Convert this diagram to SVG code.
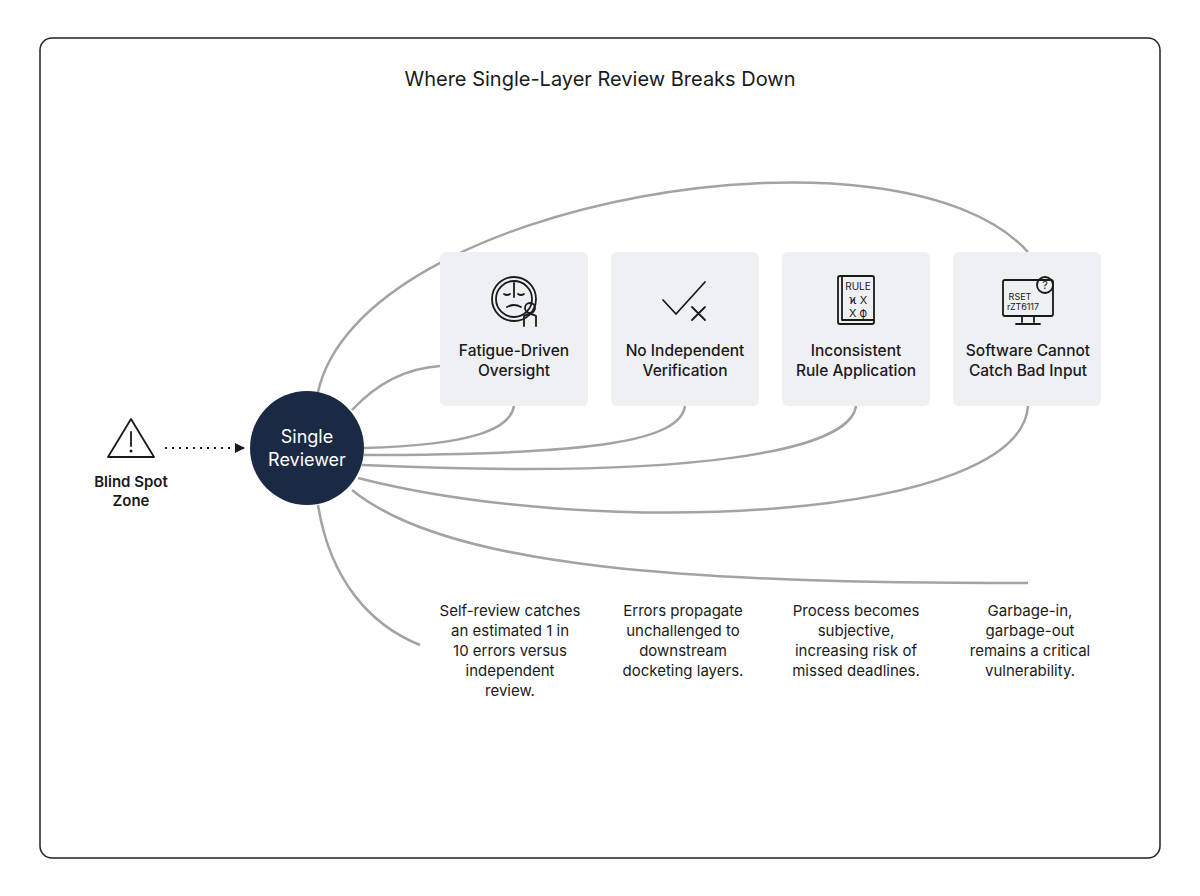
<svg xmlns="http://www.w3.org/2000/svg" width="1200" height="896" viewBox="0 0 1200 896">
<style>
text{font-family:Inter,"Liberation Sans",sans-serif;fill:#1a1a1a}
.t{font-size:20px}
.lb{font-size:15.5px;font-weight:500;text-anchor:middle}
.d{font-size:15px;text-anchor:middle}
.box{fill:#eef0f4}
.c{fill:none;stroke:#a3a3a3;stroke-width:2.5}
.ic{fill:none;stroke:#1a1a1a;stroke-width:1.8;stroke-linecap:round;stroke-linejoin:round}
</style>
<defs><marker id="ah" markerWidth="10" markerHeight="10" refX="9" refY="5" orient="auto" markerUnits="userSpaceOnUse"><path d="M0,0 L10,5 L0,10 Z" fill="#1a1a1a"/></marker></defs>
<rect x="40" y="38" width="1120" height="820" rx="12" fill="#fff" stroke="#222" stroke-width="1.5"/>
<text class="t" x="600" y="86" text-anchor="middle">Where Single-Layer Review Breaks Down</text>
<g id="connectors">
<path class="c" d="M318,392 C360,200 900,110 1028,252"/>
<path class="c" d="M352,410 C380,380 410,368 440,366"/>
<path class="c" d="M364,448 C470,445 510,430 514,406"/>
<path class="c" d="M364,455 C600,455 680,440 685,406"/>
<path class="c" d="M362,465 C700,480 850,450 856,406"/>
<path class="c" d="M358,478 C600,540 1020,520 1028,406"/>
<path class="c" d="M352,490 C450,570 700,583 1028,583"/>
<path class="c" d="M318,505 C330,580 370,625 420,645"/>
<path d="M165,448 L244,448" stroke="#1a1a1a" stroke-width="2" stroke-dasharray="2,5" fill="none" marker-end="url(#ah)"/>
</g>
<g id="blindspot">
<path class="ic" d="M131,419 L108,457 L154,457 Z" stroke-width="2.2"/>
<line class="ic" x1="131" y1="432" x2="131" y2="446" stroke-width="2.4"/>
<circle cx="131" cy="451" r="1.5" fill="#1a1a1a"/>
<text x="131" y="487" style="font-size:15px;font-weight:600" text-anchor="middle">Blind Spot</text>
<text x="131" y="506" style="font-size:15px;font-weight:600" text-anchor="middle">Zone</text>
</g>
<g id="reviewer">
<circle cx="307" cy="448" r="57" fill="#1b2a44"/>
<text x="307" y="443" text-anchor="middle" style="font-size:18px;fill:#fff">Single</text>
<text x="307" y="466" text-anchor="middle" style="font-size:18px;fill:#fff">Reviewer</text>
</g>
<g id="n1">
<rect class="box" x="440" y="252" width="148" height="154" rx="6"/>
<circle class="ic" cx="514" cy="299" r="22"/><circle class="ic" cx="514" cy="299" r="18"/>
<path class="ic" d="M504,294 q3,2 6,0 M518,294 q3,2 6,0 M507,307 q7,-4 14,0 M514,283 l0,14"/>
<circle class="ic" cx="530" cy="308" r="5" fill="#eef0f4"/><path class="ic" d="M524,326 v-10 q6,-4 12,0 v10" fill="#eef0f4"/>
<text class="lb" x="514" y="356">Fatigue-Driven</text><text class="lb" x="514" y="376">Oversight</text>
</g>
<g id="n2">
<rect class="box" x="611" y="252" width="148" height="154" rx="6"/>
<path class="ic" d="M663,300 L676,314 L705,282" stroke-width="2"/>
<path class="ic" d="M692,307 L705,320 M705,307 L692,320"/>
<text class="lb" x="685" y="356">No Independent</text><text class="lb" x="685" y="376">Verification</text>
</g>
<g id="n3">
<rect class="box" x="782" y="252" width="148" height="154" rx="6"/>
<rect class="ic" x="838" y="276" width="36" height="48" rx="2"/><path class="ic" d="M842,276 v44 h32"/>
<text x="858" y="290" text-anchor="middle" style="font-size:10px">RULE</text>
<text x="858" y="304" text-anchor="middle" style="font-size:11px">ϰ X</text>
<text x="858" y="317" text-anchor="middle" style="font-size:11px">X ф</text>
<text class="lb" x="856" y="356">Inconsistent</text><text class="lb" x="856" y="376">Rule Application</text>
</g>
<g id="n4">
<rect class="box" x="953" y="252" width="148" height="154" rx="6"/>
<rect class="ic" x="1003" y="280" width="50" height="36" rx="2"/>
<path class="ic" d="M1022,316 v6 M1034,316 v6 M1016,324 h24"/>
<circle class="ic" cx="1045" cy="285" r="8" fill="#eef0f4"/>
<text x="1045" y="289" text-anchor="middle" style="font-size:11px">?</text>
<text x="1020" y="300" text-anchor="middle" style="font-size:9px">RSET</text>
<text x="1023" y="310" text-anchor="middle" style="font-size:9px">rZT6117</text>
<text class="lb" x="1028" y="356">Software Cannot</text><text class="lb" x="1028" y="376">Catch Bad Input</text>
</g>
<g id="descs">
<text class="d" x="510" y="616">Self-review catches</text><text class="d" x="510" y="636">an estimated 1 in</text><text class="d" x="510" y="656">10 errors versus</text><text class="d" x="510" y="676">independent</text><text class="d" x="510" y="696">review.</text>
<text class="d" x="683" y="616">Errors propagate</text><text class="d" x="683" y="636">unchallenged to</text><text class="d" x="683" y="656">downstream</text><text class="d" x="683" y="676">docketing layers.</text>
<text class="d" x="856" y="616">Process becomes</text><text class="d" x="856" y="636">subjective,</text><text class="d" x="856" y="656">increasing risk of</text><text class="d" x="856" y="676">missed deadlines.</text>
<text class="d" x="1030" y="616">Garbage-in,</text><text class="d" x="1030" y="636">garbage-out</text><text class="d" x="1030" y="656">remains a critical</text><text class="d" x="1030" y="676">vulnerability.</text>
</g>
</svg>
